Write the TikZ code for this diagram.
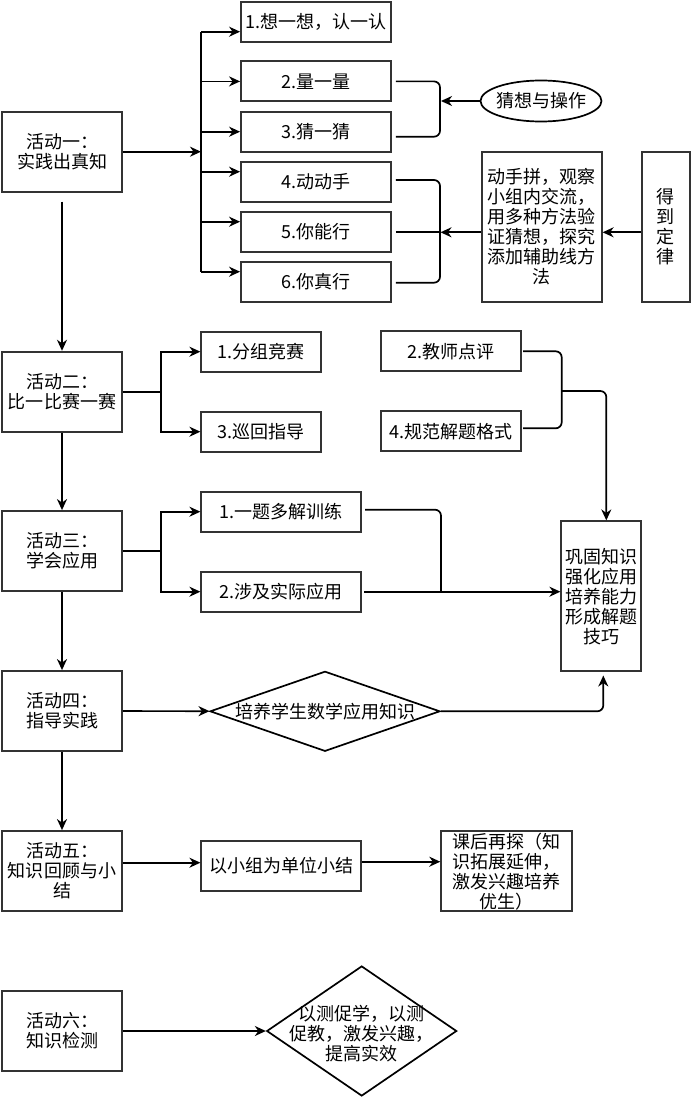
\documentclass[tikz,border=0pt]{standalone}
\usepackage{fontspec}
\newfontfamily\cjk{Noto Sans CJK SC}
\usetikzlibrary{arrows.meta,shapes.geometric,calc}
\begin{document}
\begin{tikzpicture}[x=1pt,y=-1pt,
  bx/.style={draw=black!80,line width=1.8pt,fill=white,inner sep=0pt,align=center,font=\cjk\fontsize{18}{20}\selectfont},
  txt/.style={inner sep=0pt,align=center,font=\cjk\fontsize{18}{20}\selectfont},
  shp/.style={draw=black,line width=1.7pt,inner sep=0pt},
  conn/.style={line width=1.7pt,black},
  arr/.style={conn,-{Stealth[length=11pt,width=10pt,inset=3.5pt]}},
  rc/.style={rounded corners=6pt},
]
\useasboundingbox (0,0) rectangle (692,1097);

% activities
\node[bx,minimum width=120pt,minimum height=80pt] (A1) at (62,151.7) {活动一：\\实践出真知};
\node[bx,minimum width=120pt,minimum height=80pt] (A2) at (62,391.7) {活动二：\\比一比赛一赛};
\node[bx,minimum width=120pt,minimum height=80pt] (A3) at (62,551) {活动三：\\学会应用};
\node[bx,minimum width=120pt,minimum height=80pt] (A4) at (62,711) {活动四：\\指导实践};
\node[bx,minimum width=120pt,minimum height=80pt] (A5) at (62,871) {活动五：\\知识回顾与小\\结};
\node[bx,minimum width=120pt,minimum height=80pt] (A6) at (62,1031) {活动六：\\知识检测};

% activity one
\node[bx,minimum width=150pt,minimum height=40pt] (b1) at (316,21.7) {1.想一想，认一认};
\node[bx,minimum width=150pt,minimum height=40pt] (b2) at (316,81.4) {2.量一量};
\node[bx,minimum width=150pt,minimum height=40pt] (b3) at (316,131.7) {3.猜一猜};
\node[bx,minimum width=150pt,minimum height=40pt] (b4) at (316,181.7) {4.动动手};
\node[bx,minimum width=150pt,minimum height=40pt] (b5) at (316,231.7) {5.你能行};
\node[bx,minimum width=150pt,minimum height=40pt] (b6) at (316,281.7) {6.你真行};
\node[shp,ellipse,minimum width=121pt,minimum height=41pt] (ell) at (541,101) {};
\node[txt] (ellt) at (ell) {猜想与操作};
\node[bx,minimum width=120pt,minimum height=150pt] (G) at (541.7,226.7) {动手拼，观察\\小组内交流，\\用多种方法验\\证猜想，探究\\添加辅助线方\\法};
\node[bx,minimum width=48pt,minimum height=150pt] (H) at (665.7,226.7) {得\\到\\定\\律};

% activity two
\node[bx,minimum width=120pt,minimum height=40pt] (c1) at (261.3,351.7) {1.分组竞赛};
\node[bx,minimum width=120pt,minimum height=40pt] (c3) at (261.3,431.7) {3.巡回指导};
\node[bx,minimum width=140pt,minimum height=40pt] (c2) at (451.3,351.3) {2.教师点评};
\node[bx,minimum width=140pt,minimum height=40pt] (c4) at (451.3,431.3) {4.规范解题格式};

% activity three
\node[bx,minimum width=160pt,minimum height=40pt] (d1) at (281.3,511.7) {1.一题多解训练};
\node[bx,minimum width=160pt,minimum height=40pt] (d2) at (281.3,591.7) {2.涉及实际应用};
\node[bx,minimum width=80pt,minimum height=150pt] (K) at (601.3,596.3) {巩固知识\\强化应用\\培养能力\\形成解题\\技巧};

% activity four
\node[shp,diamond,minimum width=230pt,minimum height=80pt] (D1) at (325,711.3) {};
\node[txt] (D1t) at (D1) {培养学生数学应用知识};

% activity five
\node[bx,minimum width=160pt,minimum height=50pt] (E) at (281.3,866) {以小组为单位小结};
\node[bx,minimum width=131pt,minimum height=80pt] (F) at (506.7,871.3) {课后再探（知\\识拓展延伸，\\激发兴趣培养\\优生）};

% activity six
\node[shp,diamond,minimum width=190pt,minimum height=130pt] (D2) at (361.7,1031) {};
\node[txt] (D2t) at (361.7,1034) {以测促学，以测\\促教，激发兴趣，\\提高实效};

% main column
\draw[arr] ([yshift=-9pt]A1.south) -- (A2.north);
\draw[arr] (A2) -- (A3);
\draw[arr] (A3) -- (A4);
\draw[arr] (A4) -- (A5);

% activity one connectors
\coordinate (t1) at (201,151.7);
\coordinate (e1) at ([yshift=-10pt]b1.west);
\coordinate (e2) at (b2.west);
\coordinate (e3) at (b3.west);
\coordinate (e4) at ([yshift=10pt]b4.west);
\coordinate (e5) at ([yshift=10pt]b5.west);
\coordinate (e6) at ([yshift=10pt]b6.west);
\draw[arr] (A1.east) -- (t1);
\draw[conn] (t1 |- e1) -- (t1 |- e6);
\foreach \i in {1,...,6} \draw[arr] (t1 |- e\i) -- (e\i);

\draw[conn,rc] ([xshift=4pt]b2.east) -| (440,110) |- ([xshift=4pt,yshift=-5pt]b3.east);
\coordinate (j1) at (441,101);
\draw[arr] (ell.west) -- (j1);

\draw[conn,rc] ([xshift=4pt,yshift=1.7pt]b4.east) -| (440,232) |- ([xshift=4pt,yshift=-1pt]b6.east);
\coordinate (j2) at (440.5,232.3);
\draw[conn] ([xshift=4pt]b5.east |- j2) -- (j2);
\draw[arr] ([yshift=-5.6pt]G.west) -- (j2);
\draw[arr] ([yshift=-5.6pt]H.west) -- ([yshift=-5.6pt]G.east);

% activity two connectors
\coordinate (t2) at (161,391.7);
\draw[conn] (A2.east) -- (t2);
\draw[arr] (t2) |- (c1);
\draw[arr] (t2) |- (c3);
\coordinate (j3) at (561.7,391);
\draw[conn,rc] ([xshift=1pt]c2.east) -| (j3) |- ([xshift=1pt,yshift=3pt]c4.east);
\draw[arr,rc] (j3) -| ([xshift=5pt]K.north);

% activity three connectors
\coordinate (t3) at (161,551);
\draw[conn] (A3.east) -- (t3);
\draw[arr] (t3) |- (d1);
\draw[arr] (t3) |- (d2);
\draw[arr] ([xshift=2pt]d2.east) -- (d2.east -| K.west);
\coordinate (j4) at (441,591.7);
\draw[conn,rc] ([xshift=3pt,yshift=2pt]d1.east) -| (j4);

% activity four connectors
\draw[arr] (A4) -- (D1);
\draw[arr,rc] (D1.east) -| ([xshift=2pt,yshift=-3.3pt]K.south);

% activity five connectors
\draw[arr] ([yshift=8.3pt]A5.east) -- ([yshift=3.3pt]E.west);
\draw[arr] ([yshift=4.3pt]E.east) -- ([yshift=9.6pt]F.west);

% activity six connector
\draw[arr] (A6) -- (D2);
\end{tikzpicture}
\end{document}
